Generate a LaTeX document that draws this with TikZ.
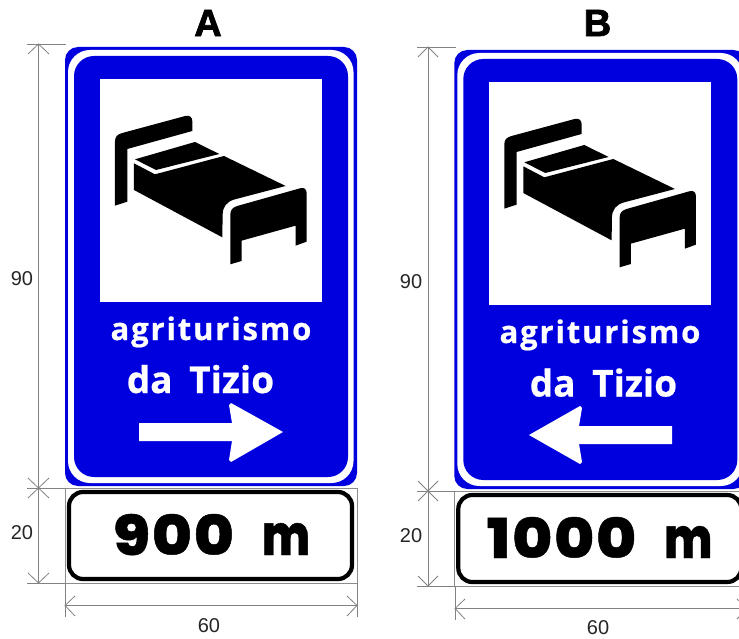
\documentclass[tikz,border=0pt]{standalone}
\usepackage{fontspec}
\setmainfont{Liberation Sans}
\newfontfamily\signfont{Open Sans Bold}[FakeBold=0.6]
\newfontfamily\heavyfont{Poppins ExtraBold}[LetterSpace=3,FakeBold=0.8]
\newfontfamily\titlefont{Liberation Sans Bold}[FakeBold=2]
\definecolor{signblue}{RGB}{0,0,222}
\definecolor{dimgrey}{RGB}{130,130,130}
\newcommand{\metres}{\scalebox{0.9}[1.13]{\fontsize{50}{50}\selectfont m}}
\newcommand{\digits}[1]{\scalebox{1.11}[1]{\fontsize{55}{55}\selectfont #1}}
\tikzset{
  dimline/.style={draw=dimgrey,line width=0.8pt},
  dimtext/.style={inner sep=0pt,font=\fontsize{20}{20}\selectfont,text=black!85},
  signtext/.style={inner sep=0pt,text=white},
  platetext/.style={inner sep=0pt,text=black},
  titletext/.style={inner sep=0pt,text=black,font=\titlefont\fontsize{38}{38}\selectfont},
}
\newcommand{\bedicon}{%
  \begin{scope}[shift={(0,0)},x=0.3333pt,y=-0.3333pt]
    \fill[black] (345,617) -- (345,425) .. controls (345,410) and (352,403) .. (367,399) -- (556,348)
      .. controls (570,345) and (577,352) .. (577,364) -- (577,393) -- (382,447) -- (382,605) -- cycle;
    \fill[black] (405,478) -- (585,426) -- (658,462) -- (468,510) -- cycle;
    \fill[black] (402,490) -- (465,523) -- (672,468) -- (857,558) -- (705,598)
      .. controls (680,605) and (668,620) .. (668,645) -- (667,712) -- (402,570) -- cycle;
    \fill[black] (691,793) -- (691,645) .. controls (691,630) and (697,623) .. (712,618) -- (900,565)
      .. controls (913,561) and (920,568) .. (920,580) -- (920,725) -- (887,737) -- (887,677) -- (725,722) -- (725,783) -- cycle;
  \end{scope}}
\newcommand{\signbody}{%
  \fill[signblue,rounded corners=13pt] (65,47) rectangle (357,486);
  \fill[white,rounded corners=22pt] (68,50) rectangle (353.5,483);
  \fill[signblue,rounded corners=20pt] (74,56) rectangle (348,477);
  \fill[white] (100,79) rectangle (322,302);
  \bedicon
  \draw[line width=0.7pt,draw=black!45] (65,488) rectangle (357,583);
  \draw[black,line width=4.2pt,fill=white,rounded corners=14pt] (69,492) rectangle (352,579);
}
\begin{document}
\begin{tikzpicture}[x=1pt,y=-1pt]
\useasboundingbox (0,0) rectangle (739,639);
\fill[white] (0,0) rectangle (739,639);
% ---------- A
\node[titletext] (titleA) at (208,23) {A};
\begin{scope}[local bounding box=signA]
  \signbody
\end{scope}
\node[signtext,font=\signfont\fontsize{31}{31}\selectfont,anchor=base] (a1) at (211,340) {\addfontfeature{LetterSpace=6}agriturismo};
\node[signtext,font=\signfont\fontsize{37}{37}\selectfont,anchor=base] (a2) at (200.5,393) {da\hspace{0.45em}Tizio};
\fill[white] (139,423) -- (232,423) -- (229,405) -- (231,403) -- (283,432) -- (231,462) -- (229,460) -- (232,441) -- (139,441) -- cycle;
\node[platetext,font=\heavyfont,anchor=base] (a3) at (211.5,555) {\digits{900}\hspace{28pt}\metres};
% dimensions A
\coordinate (at) at (38.5,44); \coordinate (am) at (38.5,488); \coordinate (ab) at (38.5,583);
\coordinate (atl) at (27,44); \coordinate (atr) at (66,44);
\coordinate (aml) at (27,488); \coordinate (amr) at (66,488);
\coordinate (abl) at (27,583); \coordinate (abr) at (66,583);
\draw[dimline] (at) -- (ab);
\draw[dimline] (atl) -- (atr); \draw[dimline] (aml) -- (amr); \draw[dimline] (abl) -- (abr);
\draw[dimline] (28,54) -- (at) -- (49,54);
\draw[dimline] (28,478) -- (49,498); \draw[dimline] (49,478) -- (28,498);
\draw[dimline] (28,573) -- (ab) -- (49,573);
\coordinate (ahl) at (65,605.5); \coordinate (ahr) at (357,605.5);
\draw[dimline] (ahl) -- (ahr);
\draw[dimline] (65,583) -- (65,617); \draw[dimline] (357,583) -- (357,617);
\draw[dimline] (75,596) -- (ahl) -- (75,616);
\draw[dimline] (347,596) -- (ahr) -- (347,616);
\node[dimtext] (a90) at (22,278.5) {90};
\node[dimtext] (a20) at (22,533) {20};
\node[dimtext] (a60) at (209,625.5) {60};
% ---------- B
\node[titletext] (titleB) at (597.5,23) {B};
\begin{scope}[shift={(389.3,3)},local bounding box=signB]
  \signbody
\end{scope}
\node[signtext,font=\signfont\fontsize{31}{31}\selectfont,anchor=base] (b1) at (600,343) {\addfontfeature{LetterSpace=6}agriturismo};
\node[signtext,font=\signfont\fontsize{37}{37}\selectfont,anchor=base] (b2) at (603.5,396.5) {da\hspace{0.45em}Tizio};
\fill[white] (672,426) -- (579,426) -- (582,408) -- (580,406) -- (529,435) -- (580,464) -- (582,462) -- (579,444) -- (672,444) -- cycle;
\node[platetext,font=\heavyfont,anchor=base] (b3) at (599.5,558) {\digits{1000}\hspace{28pt}\metres};
% dimensions B
\coordinate (bt) at (428,47); \coordinate (bm) at (428,491); \coordinate (bb) at (428,586);
\coordinate (btl) at (417,47); \coordinate (btr) at (456,47);
\coordinate (bml) at (417,491); \coordinate (bmr) at (456,491);
\coordinate (bbl) at (417,586); \coordinate (bbr) at (456,586);
\draw[dimline] (bt) -- (bb);
\draw[dimline] (btl) -- (btr); \draw[dimline] (bml) -- (bmr); \draw[dimline] (bbl) -- (bbr);
\draw[dimline] (418,57) -- (bt) -- (438,57);
\draw[dimline] (418,481) -- (438,501); \draw[dimline] (438,481) -- (418,501);
\draw[dimline] (418,576) -- (bb) -- (438,576);
\coordinate (bhl) at (455,608.5); \coordinate (bhr) at (747,608.5);
\draw[dimline] (bhl) -- (bhr);
\draw[dimline] (455,586) -- (455,620); \draw[dimline] (747,586) -- (747,620);
\draw[dimline] (465,599) -- (bhl) -- (465,619);
\draw[dimline] (737,599) -- (bhr) -- (737,619);
\node[dimtext] (b90) at (411,282) {90};
\node[dimtext] (b20) at (411,536) {20};
\node[dimtext] (b60) at (598,628) {60};
\end{tikzpicture}
\end{document}
